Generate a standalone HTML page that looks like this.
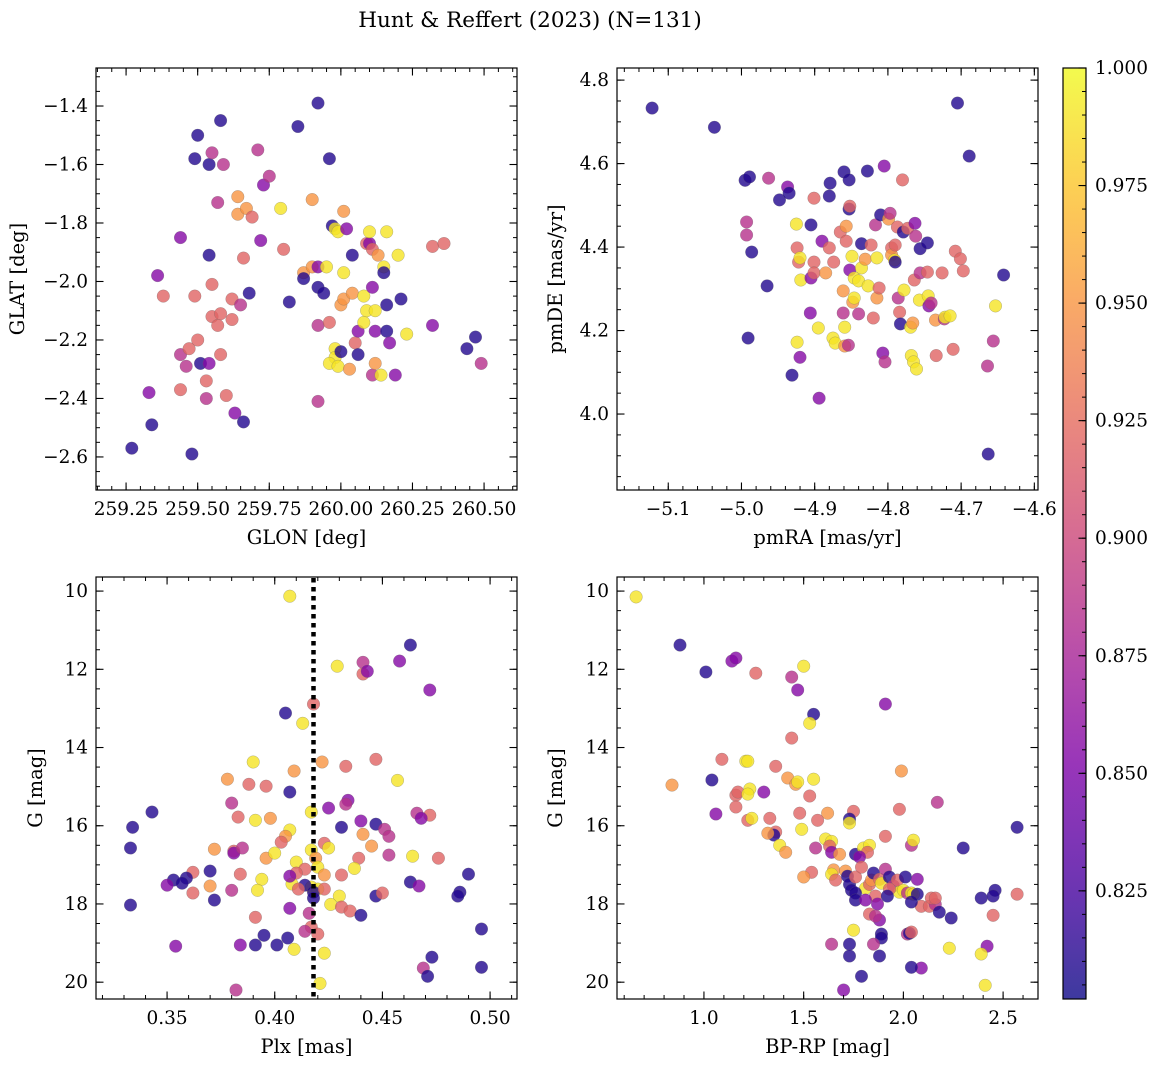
<!DOCTYPE html>
<html><head><meta charset="utf-8">
<style>
body{margin:0;background:#fff;}
svg text{font-family:"DejaVu Serif","Liberation Serif",serif;fill:#000;}
</style></head>
<body>
<svg id="fig" xmlns="http://www.w3.org/2000/svg" width="1160" height="1067" viewBox="0 0 1160 1067">
<text x="530" y="27" text-anchor="middle" font-size="21.5">Hunt &amp; Reffert (2023) (N=131)</text>
</svg>
<script>
// ---- data (x, y, membership probability) ----
const p1Data = [[259.27,-2.57,0.81],[259.34,-2.49,0.81],[259.33,-2.38,0.855],[259.36,-1.98,0.855],[259.38,-2.05,0.92],[259.44,-1.85,0.855],[259.44,-2.25,0.885],[259.44,-2.37,0.92],[259.46,-2.29,0.885],[259.47,-2.23,0.92],[259.48,-2.59,0.81],[259.49,-2.05,0.92],[259.49,-1.58,0.81],[259.50,-1.50,0.81],[259.50,-2.20,0.92],[259.51,-2.28,0.81],[259.53,-2.34,0.92],[259.53,-2.40,0.885],[259.54,-2.28,0.855],[259.54,-1.60,0.81],[259.54,-1.91,0.81],[259.55,-2.01,0.92],[259.55,-1.56,0.885],[259.55,-2.12,0.92],[259.57,-1.73,0.885],[259.57,-2.15,0.92],[259.58,-1.45,0.81],[259.58,-2.11,0.92],[259.58,-2.25,0.92],[259.59,-1.60,0.885],[259.60,-2.39,0.92],[259.62,-2.06,0.92],[259.62,-2.13,0.92],[259.63,-2.45,0.855],[259.64,-1.71,0.95],[259.64,-1.77,0.95],[259.65,-2.08,0.885],[259.66,-2.48,0.81],[259.66,-1.92,0.92],[259.67,-1.75,0.95],[259.68,-2.04,0.81],[259.69,-1.78,0.92],[259.71,-1.55,0.885],[259.72,-1.86,0.855],[259.73,-1.67,0.855],[259.75,-1.64,0.885],[259.79,-1.75,0.99],[259.80,-1.89,0.92],[259.82,-2.07,0.81],[259.85,-1.47,0.81],[259.87,-1.97,0.95],[259.87,-1.99,0.81],[259.90,-1.95,0.95],[259.90,-1.72,0.95],[259.92,-1.39,0.81],[259.92,-1.95,0.855],[259.92,-2.15,0.885],[259.92,-2.41,0.885],[259.92,-2.02,0.81],[259.94,-2.04,0.81],[259.96,-1.58,0.81],[259.96,-2.14,0.92],[259.95,-1.95,0.99],[259.97,-1.81,0.81],[259.98,-1.82,0.99],[259.99,-1.83,0.99],[259.98,-2.23,0.99],[259.98,-2.26,0.99],[259.96,-2.28,0.99],[259.99,-2.29,0.99],[260.00,-2.24,0.81],[260.01,-1.97,0.99],[260.00,-2.08,0.95],[260.01,-1.76,0.95],[260.01,-2.06,0.95],[260.02,-1.82,0.855],[260.03,-2.30,0.95],[260.04,-2.04,0.95],[260.04,-1.91,0.81],[260.05,-2.21,0.92],[260.06,-2.25,0.81],[260.06,-2.17,0.855],[260.08,-2.05,0.99],[260.08,-2.14,0.99],[260.09,-2.10,0.99],[260.09,-1.87,0.92],[260.10,-1.87,0.855],[260.10,-1.83,0.99],[260.11,-1.89,0.92],[260.11,-2.32,0.885],[260.11,-2.02,0.855],[260.12,-2.17,0.855],[260.12,-2.28,0.95],[260.12,-2.10,0.99],[260.13,-1.91,0.95],[260.14,-2.32,0.99],[260.15,-1.95,0.99],[260.15,-1.97,0.81],[260.16,-2.08,0.81],[260.16,-2.17,0.81],[260.16,-1.83,0.99],[260.17,-2.21,0.855],[260.19,-2.32,0.855],[260.20,-1.91,0.99],[260.21,-2.06,0.81],[260.23,-2.18,0.99],[260.32,-1.88,0.92],[260.36,-1.87,0.92],[260.32,-2.15,0.855],[260.44,-2.23,0.81],[260.47,-2.19,0.81],[260.49,-2.28,0.885]];
const p2Data = [[-5.122,4.733,0.81],[-5.037,4.687,0.81],[-4.995,4.560,0.81],[-4.989,4.568,0.81],[-4.991,4.182,0.81],[-4.963,4.565,0.885],[-4.986,4.388,0.81],[-4.965,4.307,0.81],[-4.993,4.460,0.885],[-4.993,4.429,0.885],[-4.948,4.513,0.81],[-4.937,4.544,0.855],[-4.935,4.529,0.81],[-4.931,4.093,0.81],[-4.924,4.398,0.92],[-4.922,4.364,0.92],[-4.925,4.455,0.99],[-4.920,4.374,0.99],[-4.919,4.321,0.99],[-4.924,4.172,0.99],[-4.920,4.136,0.855],[-4.905,4.453,0.81],[-4.905,4.326,0.855],[-4.906,4.242,0.855],[-4.901,4.364,0.92],[-4.901,4.517,0.92],[-4.901,4.338,0.92],[-4.895,4.206,0.99],[-4.894,4.038,0.855],[-4.890,4.414,0.855],[-4.885,4.338,0.95],[-4.880,4.398,0.92],[-4.880,4.522,0.81],[-4.879,4.553,0.81],[-4.875,4.182,0.99],[-4.874,4.364,0.92],[-4.872,4.170,0.99],[-4.865,4.436,0.92],[-4.861,4.295,0.95],[-4.861,4.242,0.885],[-4.860,4.580,0.81],[-4.859,4.208,0.99],[-4.859,4.163,0.95],[-4.857,4.414,0.92],[-4.857,4.450,0.95],[-4.853,4.561,0.81],[-4.853,4.491,0.81],[-4.854,4.165,0.885],[-4.852,4.498,0.92],[-4.852,4.345,0.855],[-4.849,4.378,0.99],[-4.848,4.268,0.95],[-4.846,4.326,0.99],[-4.846,4.278,0.99],[-4.840,4.240,0.885],[-4.840,4.319,0.99],[-4.836,4.408,0.81],[-4.836,4.350,0.99],[-4.831,4.371,0.95],[-4.827,4.307,0.99],[-4.823,4.405,0.92],[-4.828,4.582,0.81],[-4.820,4.230,0.92],[-4.817,4.453,0.885],[-4.815,4.278,0.95],[-4.812,4.302,0.92],[-4.815,4.374,0.99],[-4.810,4.477,0.81],[-4.807,4.146,0.855],[-4.805,4.594,0.855],[-4.804,4.125,0.885],[-4.799,4.467,0.95],[-4.797,4.481,0.885],[-4.795,4.398,0.92],[-4.795,4.381,0.95],[-4.791,4.369,0.99],[-4.790,4.405,0.92],[-4.790,4.364,0.81],[-4.787,4.448,0.92],[-4.786,4.278,0.885],[-4.784,4.244,0.92],[-4.783,4.216,0.81],[-4.780,4.561,0.92],[-4.779,4.436,0.81],[-4.778,4.297,0.99],[-4.773,4.445,0.92],[-4.769,4.208,0.99],[-4.768,4.140,0.99],[-4.766,4.218,0.95],[-4.765,4.125,0.99],[-4.763,4.457,0.855],[-4.764,4.321,0.92],[-4.762,4.426,0.885],[-4.761,4.108,0.99],[-4.757,4.273,0.99],[-4.756,4.396,0.81],[-4.756,4.338,0.885],[-4.746,4.410,0.81],[-4.746,4.340,0.92],[-4.745,4.283,0.99],[-4.744,4.259,0.855],[-4.741,4.266,0.885],[-4.735,4.225,0.95],[-4.734,4.140,0.92],[-4.726,4.338,0.92],[-4.723,4.228,0.885],[-4.722,4.232,0.99],[-4.715,4.235,0.99],[-4.711,4.155,0.92],[-4.708,4.390,0.92],[-4.705,4.745,0.81],[-4.701,4.372,0.92],[-4.697,4.343,0.92],[-4.689,4.618,0.81],[-4.664,4.115,0.885],[-4.663,3.904,0.81],[-4.656,4.175,0.885],[-4.653,4.259,0.99],[-4.642,4.333,0.81]];
const p3Data = [[0.407,10.13,0.99],[0.463,11.38,0.81],[0.458,11.79,0.855],[0.441,11.82,0.885],[0.441,12.12,0.92],[0.429,11.92,0.99],[0.443,12.05,0.855],[0.472,12.53,0.855],[0.418,12.89,0.92],[0.405,13.12,0.81],[0.413,13.38,0.99],[0.433,14.48,0.92],[0.447,14.30,0.92],[0.422,14.37,0.95],[0.409,14.60,0.95],[0.390,14.37,0.99],[0.378,14.81,0.95],[0.457,14.84,0.99],[0.388,14.94,0.92],[0.396,14.99,0.92],[0.407,15.14,0.81],[0.434,15.35,0.855],[0.433,15.45,0.885],[0.380,15.42,0.885],[0.417,15.65,0.99],[0.425,15.55,0.855],[0.466,15.68,0.885],[0.343,15.65,0.81],[0.383,15.78,0.92],[0.391,15.86,0.99],[0.398,15.81,0.95],[0.472,15.73,0.92],[0.468,15.81,0.855],[0.334,16.04,0.81],[0.431,16.04,0.81],[0.407,16.11,0.99],[0.405,16.27,0.95],[0.440,15.88,0.855],[0.447,15.96,0.81],[0.451,16.09,0.885],[0.441,16.22,0.95],[0.453,16.27,0.885],[0.423,16.45,0.92],[0.403,16.42,0.92],[0.417,16.62,0.99],[0.425,16.57,0.99],[0.445,16.52,0.95],[0.381,16.65,0.92],[0.381,16.70,0.855],[0.385,16.57,0.885],[0.396,16.83,0.95],[0.372,16.60,0.95],[0.453,16.75,0.885],[0.464,16.78,0.99],[0.476,16.83,0.92],[0.333,16.57,0.81],[0.400,16.70,0.99],[0.410,16.93,0.99],[0.419,16.83,0.95],[0.439,16.83,0.92],[0.414,17.11,0.92],[0.420,17.06,0.99],[0.437,17.09,0.99],[0.423,17.26,0.95],[0.431,17.26,0.92],[0.370,17.16,0.81],[0.362,17.19,0.92],[0.384,17.24,0.92],[0.359,17.34,0.81],[0.394,17.37,0.99],[0.410,17.21,0.92],[0.417,17.57,0.99],[0.408,17.49,0.99],[0.490,17.24,0.81],[0.353,17.39,0.81],[0.350,17.52,0.855],[0.357,17.47,0.81],[0.370,17.54,0.95],[0.407,17.29,0.855],[0.414,17.52,0.81],[0.420,17.62,0.99],[0.463,17.44,0.81],[0.467,17.54,0.855],[0.362,17.72,0.92],[0.380,17.65,0.885],[0.392,17.65,0.99],[0.411,17.62,0.92],[0.418,17.70,0.81],[0.423,17.62,0.92],[0.430,17.80,0.99],[0.447,17.80,0.81],[0.450,17.72,0.92],[0.486,17.70,0.81],[0.485,17.80,0.81],[0.372,17.90,0.81],[0.333,18.03,0.81],[0.418,17.85,0.81],[0.426,18.01,0.99],[0.407,18.11,0.855],[0.431,18.08,0.92],[0.435,18.18,0.92],[0.440,18.29,0.81],[0.391,18.34,0.92],[0.416,18.24,0.885],[0.417,18.59,0.92],[0.414,18.70,0.885],[0.420,18.77,0.92],[0.395,18.80,0.81],[0.406,18.87,0.81],[0.384,19.05,0.855],[0.391,19.05,0.81],[0.401,19.05,0.81],[0.354,19.08,0.855],[0.409,19.16,0.99],[0.423,19.26,0.99],[0.496,18.64,0.81],[0.473,19.36,0.81],[0.469,19.64,0.885],[0.496,19.62,0.81],[0.471,19.85,0.81],[0.421,20.03,0.99],[0.382,20.20,0.885]];
const p4Data = [[0.66,10.15,0.99],[0.88,11.38,0.81],[1.01,12.07,0.81],[1.14,11.79,0.855],[1.16,11.71,0.855],[1.26,12.10,0.92],[1.44,12.20,0.885],[1.50,11.92,0.99],[1.47,12.53,0.855],[1.55,13.15,0.81],[1.53,13.38,0.99],[1.91,12.89,0.855],[1.44,13.76,0.92],[0.84,14.96,0.95],[1.04,14.83,0.81],[1.09,14.30,0.92],[1.21,14.35,0.99],[1.22,14.35,0.99],[1.36,14.48,0.92],[1.16,15.22,0.92],[1.17,15.14,0.92],[1.23,15.06,0.99],[1.22,15.19,0.99],[1.30,15.14,0.855],[1.06,15.70,0.855],[1.16,15.52,0.92],[1.22,15.86,0.92],[1.24,15.81,0.99],[1.42,14.78,0.95],[1.46,14.94,0.95],[1.47,14.88,0.99],[1.55,14.81,0.99],[1.53,15.24,0.92],[1.48,15.68,0.92],[1.33,15.81,0.92],[1.36,16.16,0.92],[1.35,16.24,0.81],[1.32,16.19,0.95],[1.49,16.09,0.99],[1.38,16.50,0.99],[1.41,16.68,0.95],[1.62,15.68,0.95],[1.75,15.63,0.92],[1.73,15.83,0.81],[1.73,15.93,0.99],[1.57,15.86,0.92],[1.98,15.58,0.92],[1.99,14.60,0.95],[2.17,15.40,0.885],[2.04,16.50,0.885],[1.91,16.27,0.92],[2.05,16.37,0.99],[1.56,16.57,0.885],[1.61,16.34,0.99],[1.64,16.40,0.99],[1.63,16.52,0.92],[1.64,16.68,0.855],[1.68,16.73,0.95],[1.76,16.73,0.81],[1.80,16.57,0.99],[1.83,16.50,0.99],[1.82,16.68,0.92],[1.78,16.80,0.855],[1.65,17.13,0.95],[1.64,17.24,0.99],[1.54,17.19,0.92],[1.50,17.31,0.95],[1.66,17.39,0.92],[1.71,17.16,0.95],[1.72,17.29,0.81],[1.73,17.50,0.81],[1.74,17.65,0.81],[1.76,17.31,0.92],[1.79,17.06,0.92],[1.81,17.60,0.99],[1.83,17.50,0.92],[1.84,17.39,0.95],[1.85,17.21,0.81],[1.86,17.80,0.92],[1.87,18.00,0.855],[1.88,17.37,0.92],[1.89,17.47,0.99],[1.91,17.11,0.885],[1.93,17.31,0.81],[1.95,17.54,0.885],[1.97,17.39,0.92],[1.98,17.70,0.99],[2.00,17.65,0.99],[2.01,17.31,0.81],[2.02,17.72,0.885],[2.04,17.72,0.99],[2.05,17.75,0.99],[2.07,17.37,0.855],[2.09,18.06,0.92],[2.13,18.06,0.92],[2.16,18.01,0.885],[2.14,17.85,0.92],[2.18,18.21,0.81],[2.07,17.75,0.81],[2.04,17.95,0.81],[1.93,17.62,0.92],[1.92,17.80,0.81],[1.76,17.72,0.81],[1.76,17.90,0.81],[1.81,17.90,0.855],[1.83,18.26,0.92],[1.88,18.41,0.855],[1.86,18.31,0.885],[1.89,18.77,0.81],[2.02,18.77,0.885],[2.03,18.75,0.81],[2.04,18.72,0.92],[2.16,17.85,0.92],[2.24,18.36,0.81],[2.30,16.57,0.81],[2.39,17.85,0.81],[2.46,17.65,0.81],[2.45,17.80,0.81],[2.45,18.29,0.92],[2.57,17.75,0.92],[2.57,16.04,0.81],[2.23,19.13,0.99],[2.42,19.08,0.855],[2.39,19.28,0.99],[2.09,19.64,0.855],[2.04,19.62,0.81],[1.88,19.33,0.81],[1.89,18.87,0.81],[1.73,19.03,0.81],[1.73,19.33,0.81],[1.64,19.03,0.885],[1.75,18.67,0.99],[1.85,19.03,0.885],[1.79,19.85,0.81],[1.70,20.20,0.855],[2.41,20.08,0.99]];
const p1XTicks = [259.25,259.5,259.75,260.0,260.25,260.5];
const p1YTicks = [-1.4,-1.6,-1.8,-2.0,-2.2,-2.4,-2.6];
const p2XTicks = [-5.1,-5.0,-4.9,-4.8,-4.7,-4.6];
const p2YTicks = [4.0,4.2,4.4,4.6,4.8];
const p3XTicks = [0.35,0.40,0.45,0.50];
const gTicks = [10,12,14,16,18,20];
const p4XTicks = [1.0,1.5,2.0,2.5];
const cbTicks = [0.825,0.850,0.875,0.900,0.925,0.950,0.975,1.000];
const plxLine = 0.418;
const vmin = 0.802, vmax = 1.0;

const TICK_FS = 18.5, LABEL_FS = 19.5;
const NS = "http://www.w3.org/2000/svg";
const svg = document.getElementById('fig');
function mk(tag, attrs, parent){const e=document.createElementNS(NS,tag);for(const k in attrs)e.setAttribute(k,attrs[k]);(parent||svg).appendChild(e);return e;}
const stops=[[0,[13,8,135]],[0.125,[76,2,161]],[0.25,[126,3,168]],[0.375,[169,35,149]],[0.5,[204,71,120]],[0.625,[230,108,92]],[0.75,[248,149,64]],[0.875,[253,197,39]],[1,[240,249,33]]];
function plasma(t){t=Math.max(0,Math.min(1,t));for(let i=1;i<stops.length;i++){if(t<=stops[i][0]){const a=stops[i-1],b=stops[i];const f=(t-a[0])/(b[0]-a[0]);const c=a[1].map((v,j)=>Math.round(v+(b[1][j]-v)*f));return `rgb(${c[0]},${c[1]},${c[2]})`;}}return 'rgb(240,249,33)';}
function fmt(v,d){return v.toFixed(d).replace('-','\u2212');}

function panel(name, box, xlim, ylim, xTicks, yTicks, xMinor, yMinor, xd, yd, xlabel, ylabel, data, ylabX){
  const [L,T,R,B]=box;
  const sx=v=>L+(v-xlim[0])/(xlim[1]-xlim[0])*(R-L);
  const sy=v=>T+(ylim[1]-v)/(ylim[1]-ylim[0])*(B-T);
  const g=mk('g',{});
  
  
  const pts=mk('g',{},g);
  for(const d of data){
    const c=mk('circle',{cx:sx(d[0]).toFixed(1),cy:sy(d[1]).toFixed(1),r:6.3,fill:plasma((d[2]-vmin)/(vmax-vmin)),'fill-opacity':0.8,stroke:'#666','stroke-width':0.4,'stroke-opacity':0.6},pts);
    
    
  }
  const lo=Math.ceil(xlim[0]/xMinor-1e-6), hi=Math.floor(xlim[1]/xMinor+1e-6);
  for(let i=lo;i<=hi;i++){const x=sx(i*xMinor);mk('line',{x1:x,x2:x,y1:B,y2:B-4,stroke:'#000','stroke-width':1},g);mk('line',{x1:x,x2:x,y1:T,y2:T+4,stroke:'#000','stroke-width':1},g);}
  const lo2=Math.ceil(Math.min(...ylim)/yMinor-1e-6), hi2=Math.floor(Math.max(...ylim)/yMinor+1e-6);
  for(let i=lo2;i<=hi2;i++){const y=sy(i*yMinor);mk('line',{x1:L,x2:L+4,y1:y,y2:y,stroke:'#000','stroke-width':1},g);mk('line',{x1:R,x2:R-4,y1:y,y2:y,stroke:'#000','stroke-width':1},g);}
  for(const v of xTicks){const x=sx(v);mk('line',{x1:x,x2:x,y1:B,y2:B-7.5,stroke:'#000','stroke-width':1.1},g);mk('line',{x1:x,x2:x,y1:T,y2:T+7.5,stroke:'#000','stroke-width':1.1},g);
    const t=mk('text',{x:x,y:B+25,'text-anchor':'middle','font-size':TICK_FS},g);t.textContent=fmt(v,xd);
    
    }
  for(const v of yTicks){const y=sy(v);mk('line',{x1:L,x2:L+7.5,y1:y,y2:y,stroke:'#000','stroke-width':1.1},g);mk('line',{x1:R,x2:R-7.5,y1:y,y2:y,stroke:'#000','stroke-width':1.1},g);
    const t=mk('text',{x:L-8,y:y+6,'text-anchor':'end','font-size':TICK_FS},g);t.textContent=fmt(v,yd);
    
    }
  const fr=mk('rect',{x:L,y:T,width:R-L,height:B-T,fill:'none',stroke:'#000','stroke-width':1.2},g);
  
  
  const xl=mk('text',{x:(L+R)/2,y:B+54,'text-anchor':'middle','font-size':LABEL_FS},g);xl.textContent=xlabel;
  
  
  const yc=(T+B)/2;
  const yl=mk('text',{x:ylabX,y:yc,'text-anchor':'middle','font-size':LABEL_FS,transform:`rotate(-90 ${ylabX} ${yc})`},g);yl.textContent=ylabel;
  
  
  return {sx,sy,g};
}
panel('panel-glon-glat',[96,68,517,490],[259.145,260.615],[-2.713,-1.27],p1XTicks,p1YTicks,0.05,0.05,2,1,'GLON [deg]','GLAT [deg]',p1Data,24);
panel('panel-proper-motion',[617,68,1038,490],[-5.170,-4.595],[3.818,4.829],p2XTicks,p2YTicks,0.02,0.05,1,1,'pmRA [mas/yr]','pmDE [mas/yr]',p2Data,562);
const p3=panel('panel-plx-g',[96,577,517,999],[0.317,0.5125],[-20.43,-9.64],p3XTicks,[],0.01,0.5,2,0,'Plx [mas]','G [mag]',p3Data.map(d=>[d[0],-d[1],d[2]]),42);
const p4=panel('panel-cmd',[617,577,1038,999],[0.564,2.675],[-20.43,-9.64],p4XTicks,[],0.1,0.5,1,0,'BP-RP [mag]','G [mag]',p4Data.map(d=>[d[0],-d[1],d[2]]),562);
for(const P of [[p3,96,517],[p4,617,1038]]){
  for(const v of gTicks){const y=P[0].sy(-v);
    mk('line',{x1:P[1],x2:P[1]+7.5,y1:y,y2:y,stroke:'#000','stroke-width':1.1},P[0].g);
    mk('line',{x1:P[2],x2:P[2]-7.5,y1:y,y2:y,stroke:'#000','stroke-width':1.1},P[0].g);
    const t=mk('text',{x:P[1]-8,y:y+6,'text-anchor':'end','font-size':TICK_FS},P[0].g);t.textContent=String(v);
    
    }
}
const lx=p3.sx(plxLine);
const ln=mk('line',{x1:lx,x2:lx,y1:578,y2:998,stroke:'#000','stroke-width':4.5,'stroke-dasharray':'4.5 4.5'});


const cbL=1063,cbR=1086,cbT=68,cbB=999;
const cy=v=>cbB-(v-vmin)/(vmax-vmin)*(cbB-cbT);
const cbg=mk('g',{});


const defs=mk('defs',{},cbg);
const lg=mk('linearGradient',{id:'cbgrad',x1:0,y1:1,x2:0,y2:0},defs);
for(let i=0;i<=20;i++){mk('stop',{offset:i/20,'stop-color':plasma(i/20),'stop-opacity':0.8},lg);}
mk('rect',{x:cbL,y:cbT,width:cbR-cbL,height:cbB-cbT,fill:'url(#cbgrad)'},cbg);
for(let v=0.805;v<=1.0001;v+=0.005){const y=cy(v);mk('line',{x1:cbR,x2:cbR-4,y1:y,y2:y,stroke:'#000','stroke-width':1},cbg);}
for(const v of cbTicks){const y=cy(v);mk('line',{x1:cbR,x2:cbR-7.5,y1:y,y2:y,stroke:'#000','stroke-width':1.1},cbg);
  const t=mk('text',{x:cbR+9,y:y+6,'font-size':TICK_FS},cbg);t.textContent=v.toFixed(3);
  
  }
mk('rect',{x:cbL,y:cbT,width:cbR-cbL,height:cbB-cbT,fill:'none',stroke:'#000','stroke-width':1.2},cbg);
</script>
</body></html>
